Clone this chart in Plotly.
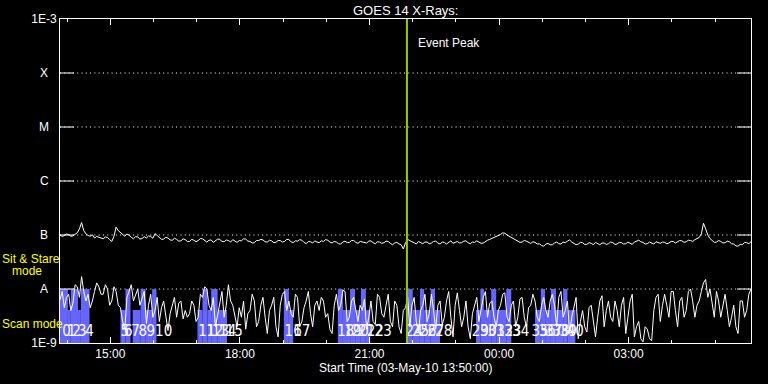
import math
import pandas as pd
import plotly.graph_objects as go

# ---------------- data ----------------
start_time = "2010-05-03 13:50"
step_minutes = 3
event_peak_time = "2010-05-03 21:52"

# 0.5-4 A channel, units of 1e-9 W/m^2 (one value every 3 min from 13:50)
low_channel_nw = [
    6.3, 9, 4.5, 7, 8, 4, 5.5, 12, 11, 7, 17, 9, 6, 8, 4.5, 6, 9, 13, 11, 8,
    8, 12, 10, 5, 6, 11, 9, 5, 4.5, 2.5, 1.8, 7, 9, 12, 6, 8, 10, 5, 7, 9,
    2.3, 5, 8, 3, 4, 7, 2.5, 4.5, 6, 3, 1.7, 3.5, 5, 7, 3, 5.5, 6, 2.8, 4, 3,
    3.5, 6, 5, 2.5, 3, 8, 7, 11, 10, 5, 4, 7, 2, 3.5, 6, 9, 3, 5, 12, 6,
    5, 3, 2, 4.5, 3, 6, 1.8, 3.5, 4, 8, 6, 2, 2.5, 5, 7, 3, 1.5, 4, 5, 7,
    2, 1.3, 5, 8, 9, 4, 6, 3.5, 3, 8, 7, 2, 2.5, 4.5, 6, 9, 3.5, 2, 5, 6,
    4, 7, 6, 3, 3.5, 1.8, 1.5, 5, 8, 4, 5, 9.5, 9, 2.5, 3, 6, 7, 4, 2.5, 5,
    4, 6.5, 1.8, 3, 6, 2.5, 2.2, 8, 7, 3.5, 3, 5, 8, 2.5, 2, 6, 5, 2, 1.5, 4,
    4.5, 7, 2, 5, 7, 2.5, 1.6, 4, 5, 8, 2.5, 3.5, 8, 4, 1.8, 5, 6, 2.2, 3, 6,
    9, 3, 1.3, 5, 8.5, 4, 2, 3, 6, 2, 1.2, 3.5, 5, 7, 2.5, 4, 7, 9, 3, 5.5,
    6, 3, 2, 4, 5, 8, 8.5, 3, 2.5, 5, 6, 2, 3, 6.5, 7, 3, 2, 4.5, 5, 8,
    6, 3, 2.5, 5, 7, 4, 3, 6, 8, 5, 2, 7, 9, 3, 4, 6, 1.5, 3, 5, 7,
    1.2, 2.5, 4, 2, 1.6, 4.5, 5, 2.5, 1.3, 3, 6, 7.5, 2, 4, 6, 3, 2.5, 6, 4, 2,
    5, 7, 1.5, 3, 6, 8, 1.3, 2, 2.5, 1.2, 1.05, 2, 1.8, 1.2, 1.1, 4, 7, 8, 2.5, 5,
    8, 5, 3, 9, 9, 4, 2, 6, 7, 3, 4, 9, 10, 6, 3, 5, 6, 9, 13, 15,
    7, 10, 5, 3, 9, 6, 3, 5, 8, 4, 2, 3, 5, 2, 1.5, 6, 6, 3, 4, 8, 10,
]

# 1-8 A channel, units of 1e-8 W/m^2 (one value every 3 min from 13:50)
high_channel_1e8 = [
    10, 9.4, 9.8, 10.4, 10.2, 9.5, 9.6, 10.3, 11, 13, 17, 12, 10.5, 9.8, 9.5, 10.1, 8.8, 9.4, 9, 8.6,
    8.5, 9.2, 9, 8.2, 7.6, 9.5, 14, 12, 11, 10.2, 9.5, 10.4, 10, 9.1, 8.5, 9.3, 9.2, 8.4, 8.6, 9.3,
    8.8, 9.6, 9.4, 8.7, 10.6, 9.8, 9, 8.3, 8.4, 9.1, 8.8, 8.1, 8, 8.7, 8.3, 7.7, 7.8, 8.5, 8.2, 7.6,
    7.6, 8.3, 8, 7.5, 7.9, 8.6, 8.5, 7.8, 7.4, 8, 8.1, 7.3, 7.7, 8.4, 8.3, 7.6, 7.5, 8.1, 7.9, 7.4,
    8.2, 7.7, 7.3, 7.9, 7.8, 8.5, 8.4, 7.7, 7.6, 7.1, 7.2, 7.9, 7.9, 8.3, 8.1, 7.5, 7.4, 8, 7.8, 7.2,
    7.3, 7.9, 7.9, 7.4, 7.6, 8.3, 8.2, 7.5, 7.2, 7.8, 7.7, 8.2, 8, 7.3, 6.9, 7.6, 7.5, 7.1, 7.8, 7.4,
    7.2, 7.8, 7.6, 8.2, 8, 7.4, 7.1, 7.6, 7.4, 6.9, 6.8, 7.4, 7.7, 7.2, 7.3, 7.9, 7.9, 7.3, 7, 7.6,
    7.5, 7.2, 7.1, 7.7, 7.8, 7.2, 6.9, 7.5, 7.4, 7.0, 7.2, 7.7, 7.6, 7.0, 6.6, 7.1, 7.3, 6.8, 6.6, 5.5,
    7.2, 8.3, 7.8, 7.5, 7.2, 6.8, 7.6, 7.3, 6.9, 7.4, 7.4, 6.9, 7.1, 7.6, 7.7, 7.1, 6.8, 7.4, 7.3, 6.8,
    7.4, 7.8, 7, 7.3, 7.6, 7.1, 7.2, 7.7, 7.8, 7.2, 6.9, 7.4, 7.3, 7.8, 7.5, 7, 7.1, 7.6, 8, 8.3,
    8.6, 9, 9.3, 9.8, 10.2, 10.9, 10.8, 10, 9.5, 9, 8.5, 8.1, 7.8, 7.3, 7.4, 7.9, 7.7, 7.2, 7, 7.5,
    7.3, 6.8, 6.9, 6.4, 6.2, 6.8, 7, 6.6, 6.6, 7.1, 7.4, 6.9, 6.8, 7.4, 7.2, 7.7, 8.1, 7.4, 7, 6.6,
    6.8, 7.3, 7.2, 6.7, 6.7, 7.2, 7, 6.6, 7.3, 7, 6.6, 7.1, 7.1, 6.7, 6.9, 7.4, 7.2, 6.7, 6.8, 7.3,
    7.2, 6.8, 6.9, 7.4, 7.1, 6.7, 7.4, 7.8, 8, 7.5, 7.3, 6.8, 6.9, 7.4, 7.1, 6.8, 7.5, 7.2, 7, 7.4,
    7.3, 6.9, 7.1, 7.6, 7.6, 7.1, 7.4, 7.9, 7.8, 7.3, 7.5, 8, 7.9, 7.6, 8.2, 8.6, 9, 10.5, 16.5, 13,
    10, 8.6, 7.8, 7.3, 7.4, 7.9, 7.6, 7.1, 7.2, 7.7, 7.5, 6.9, 6.8, 6.3, 6.2, 6.7, 6.6, 7.3, 7.2, 6.9, 7.5,
]

# observing mode intervals  S = sit & stare, s = scan
mode_starts = ["13:50", "14:01", "14:05", "14:15", "14:19",
               "15:14", "15:21", "15:31", "15:42", "15:49", "15:58",
               "17:01", "17:08", "17:15", "17:20", "17:29",
               "19:01", "19:08",
               "20:16", "20:23", "20:33", "20:40", "20:48", "20:55",
               "21:52", "22:00", "22:10", "22:16", "22:25", "22:31",
               "23:28", "23:34", "23:39", "23:49", "23:56", "00:10",
               "00:50", "00:58", "01:04", "01:12", "01:19", "01:29", "01:35"]
mode_ends = ["14:01", "14:05", "14:15", "14:19", "14:31",
             "15:21", "15:28", "15:42", "15:49", "15:58", "16:04",
             "17:08", "17:15", "17:20", "17:29", "17:42",
             "19:08", "19:14",
             "20:23", "20:33", "20:40", "20:48", "20:55", "21:01",
             "22:00", "22:10", "22:16", "22:25", "22:31", "22:38",
             "23:34", "23:39", "23:49", "23:56", "00:10", "00:17",
             "00:58", "01:04", "01:12", "01:19", "01:29", "01:35", "01:46"]
mode_kinds = ["S", "s", "S", "s", "S",
              "s", "S", "s", "S", "s", "S",
              "s", "S", "s", "S", "s",
              "S", "s",
              "S", "s", "S", "s", "S", "s",
              "S", "s", "S", "s", "S", "s",
              "s", "S", "s", "S", "s", "S",
              "s", "S", "s", "S", "s", "S", "s"]
mode_level = {"S": 1e-8, "s": 4.1e-9}

# pointing numbers written along the bottom
number_times = ["13:59", "14:06", "14:13", "14:21", "14:31",
                "15:20", "15:25", "15:35", "15:45", "15:56", "16:14",
                "17:14", "17:25", "17:33", "17:43", "17:52",
                "19:14", "19:26",
                "20:27", "20:37", "20:47", "20:56", "21:08", "21:19",
                "22:02", "22:11", "22:21", "22:32", "22:43",
                "23:34", "23:45", "23:56", "00:08", "00:19", "00:30",
                "00:57", "01:07", "01:16", "01:26", "01:36", "01:46"]
number_texts = [str(i) for i in range(len(number_times))]
number_level = 1.6e-9

x_tick_times = ["2010-05-03 15:00", "2010-05-03 18:00", "2010-05-03 21:00",
                "2010-05-04 00:00", "2010-05-04 03:00"]
x_tick_labels = ["15:00", "18:00", "21:00", "00:00", "03:00"]
x_range = ["2010-05-03 13:50", "2010-05-04 05:50"]

y_tick_vals = [1e-9, 1e-3]
y_tick_labels = ["1E-9", "1E-3"]
class_vals = [1e-8, 1e-7, 1e-6, 1e-5, 1e-4]
class_labels = ["A", "B", "C", "M", "X"]

title_text = "GOES 14 X-Rays:"
x_title_text = "Start Time (03-May-10 13:50:00)"


# ---------------- helpers ----------------
def to_dt(hhmm):
    h = int(hhmm.split(":")[0])
    day = "2010-05-03" if h >= 12 else "2010-05-04"
    return pd.Timestamp(f"{day} {hhmm}")


low_times = pd.date_range(start_time, periods=len(low_channel_nw), freq=f"{step_minutes}min")
high_times = pd.date_range(start_time, periods=len(high_channel_1e8), freq=f"{step_minutes}min")
low_vals = [v * 1e-9 for v in low_channel_nw]
high_vals = [v * 1e-8 for v in high_channel_1e8]

bar_x, bar_w, bar_y = [], [], []
for s, e, k in zip(mode_starts, mode_ends, mode_kinds):
    t0, t1 = to_dt(s), to_dt(e)
    bar_x.append(t0 + (t1 - t0) / 2)
    bar_w.append((t1 - t0).total_seconds() * 1000)
    bar_y.append(mode_level[k])

num_x = [to_dt(t) for t in number_times]

FONT = "Liberation Sans, Arial, sans-serif"
NARROW = "Liberation Sans Narrow, DejaVu Sans Condensed, Liberation Sans, sans-serif"

fig = go.Figure()
fig.add_trace(go.Bar(x=bar_x, y=bar_y, width=bar_w, marker=dict(color="#6666ff", line=dict(width=0)),
                     hoverinfo="skip"))
fig.add_trace(go.Scatter(x=low_times, y=low_vals, mode="lines", line=dict(color="white", width=1)))
fig.add_trace(go.Scatter(x=high_times, y=high_vals, mode="lines", line=dict(color="white", width=1)))
fig.add_trace(go.Scatter(x=num_x, y=[number_level] * len(num_x), mode="text", text=number_texts,
                         textfont=dict(color="white", size=15, family=NARROW)))

fig.add_shape(type="line", xref="x", yref="paper", x0=event_peak_time, x1=event_peak_time,
              y0=0, y1=1, line=dict(color="#99cc00", width=2))

L, R, T, B = 60, 17, 19, 41
W, H = 768, 384
pw, ph = W - L - R, H - T - B


def px_to_paper(px, py):
    return (px - L) / pw, (H - B - py) / ph


annotations = []
for v, lab in zip(class_vals, class_labels):
    annotations.append(dict(xref="paper", yref="y", x=px_to_paper(44, 0)[0], y=math.log10(v),
                            text=lab, showarrow=False, xanchor="center", yanchor="middle",
                            font=dict(color="white", size=12, family=FONT)))
for txt, px, py in [("Sit & Stare", 0, 259), ("mode", 10, 271), ("Scan mode", 0, 324)]:
    xp, yp = px_to_paper(px, py)
    annotations.append(dict(xref="paper", yref="paper", x=xp, y=yp, text=txt, showarrow=False,
                            xanchor="left", yanchor="middle",
                            font=dict(color="#ffff00", size=12, family=FONT)))
annotations.append(dict(xref="x", yref="paper", x=event_peak_time, y=px_to_paper(0, 43)[1],
                        text="Event Peak", showarrow=False, xanchor="left", yanchor="middle",
                        xshift=9, font=dict(color="white", size=12, family=FONT)))
annotations.append(dict(xref="paper", yref="paper", x=0.5, y=px_to_paper(0, 10)[1],
                        text=title_text, showarrow=False, xanchor="center", yanchor="middle",
                        font=dict(color="white", size=13, family=FONT)))
annotations.append(dict(xref="paper", yref="paper", x=0.5, y=px_to_paper(0, 368)[1],
                        text=x_title_text, showarrow=False, xanchor="center", yanchor="middle",
                        font=dict(color="white", size=12, family=FONT)))

fig.update_layout(
    width=W, height=H, margin=dict(l=L, r=R, t=T, b=B),
    paper_bgcolor="black", plot_bgcolor="black",
    showlegend=False, barmode="overlay",
    annotations=annotations,
    font=dict(family=FONT, color="white", size=12),
)
fig.update_xaxes(
    type="date", range=x_range, tickvals=x_tick_times, ticktext=x_tick_labels,
    ticks="inside", ticklen=6, tickcolor="white", tickwidth=1,
    showline=True, linecolor="white", linewidth=1, mirror="ticks",
    showgrid=False, zeroline=False,
    tickfont=dict(color="white", size=12, family=FONT),
    minor=dict(dtick=3600000, ticks="inside", ticklen=3, tickcolor="white", showgrid=False),
)
fig.update_yaxes(
    type="log", range=[-9, -3], tickvals=y_tick_vals, ticktext=y_tick_labels,
    ticks="", showline=True, linecolor="white", linewidth=1, mirror=True,
    showgrid=False, zeroline=False,
    tickfont=dict(color="white", size=12, family=FONT),
)
for v in class_vals:
    fig.add_shape(type="line", xref="paper", yref="y", x0=0, x1=1, y0=v, y1=v,
                  line=dict(color="white", width=1, dash="1px,3.3px"), layer="below")
    fig.add_shape(type="line", xref="paper", yref="y", x0=0, x1=14 / pw, y0=v, y1=v,
                  line=dict(color="white", width=1))
    fig.add_shape(type="line", xref="paper", yref="y", x0=1 - 14 / pw, x1=1, y0=v, y1=v,
                  line=dict(color="white", width=1))

fig.write_html("out.html", config={"displayModeBar": False},
               post_script="document.body.style.margin='0';document.body.style.overflow='hidden';")
